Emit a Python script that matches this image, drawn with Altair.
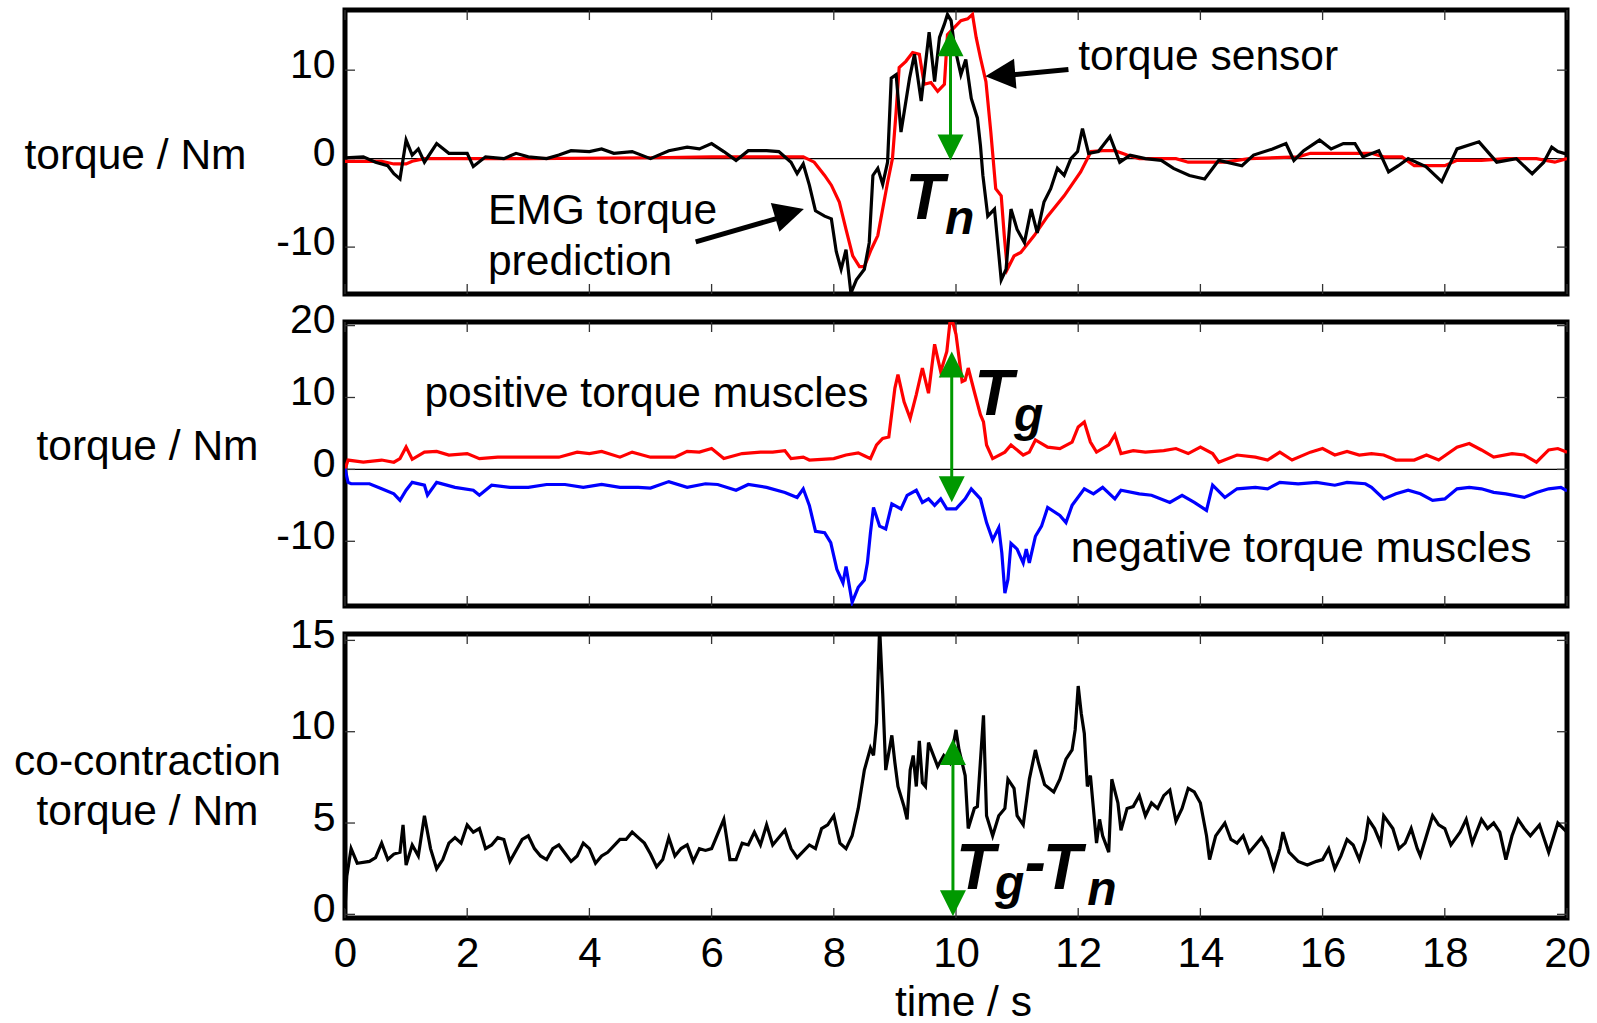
import altair as alt
import pandas as pd

W, H = 1222, 284
FONT = "Liberation Sans"
GREEN = "#009900"
HEAD = "M0,0L1,2L-1,2Z"

# ---------------- data ----------------
x_ticks = [0, 2, 4, 6, 8, 10, 12, 14, 16, 18, 20]
top_ticks = [-10, 0, 10]
mid_ticks = [-10, 0, 10, 20]
bot_ticks = [0, 5, 10, 15]

top_domain = [-15.3, 16.8]
mid_domain = [-19.0, 20.5]
bot_domain = [-0.2, 15.35]

# top panel: EMG torque prediction (black)
emg_t = [0, 0.3, 0.5, 0.7, 0.8, 0.9, 1.0, 1.1, 1.2, 1.3, 1.5, 1.7, 2.0, 2.1, 2.3, 2.6, 2.8, 3.0, 3.3, 3.5,
         3.7, 4.0, 4.2, 4.4, 4.7, 5.0, 5.3, 5.6, 5.8, 6.0, 6.2, 6.4, 6.6, 6.9, 7.1, 7.3, 7.4, 7.5, 7.6, 7.7,
         7.85, 7.96, 8.04, 8.12, 8.2, 8.28, 8.37, 8.5, 8.58, 8.64, 8.72, 8.8, 8.88, 8.94, 9.02, 9.1, 9.24, 9.32,
         9.43, 9.56, 9.65, 9.73, 9.81, 9.86, 9.92, 9.97, 10.08, 10.16, 10.25, 10.35, 10.4, 10.44, 10.52, 10.63,
         10.74, 10.82, 10.9, 11.0, 11.12, 11.23, 11.33, 11.44, 11.55, 11.66, 11.77, 11.88, 11.99, 12.07, 12.17,
         12.33, 12.52, 12.68, 12.85, 13.1, 13.36, 13.56, 13.82, 14.07, 14.3, 14.68, 14.87, 15.18, 15.4, 15.53,
         15.69, 15.95, 16.14, 16.34, 16.53, 16.66, 16.92, 17.08, 17.24, 17.4, 17.69, 17.95, 18.2, 18.56, 18.85,
         19.17, 19.43, 19.62, 19.75, 19.85, 20]
emg_v = [0.1, 0.2, -0.4, -0.8, -1.7, -2.3, 2.1, 0.4, 1.1, -0.4, 1.7, 0.6, 0.6, -0.9, 0.2, 0.0, 0.6, 0.2, 0.0, 0.4,
         0.9, 0.8, 1.1, 0.6, 0.8, 0.0, 0.9, 1.3, 1.1, 1.7, 0.8, -0.2, 0.9, 0.9, 0.8, -0.4, -1.7, -0.6, -3.0, -5.9,
         -6.5, -6.8, -10.5, -12.5, -10.3, -15.2, -13.7, -12.5, -9.5, -1.9, -1.1, -2.9, -0.4, 9.1, 9.5, 3.0, 9.1, 11.8,
         6.5, 14.3, 8.7, 13.7, 15.2, 16.3, 15.6, 12.9, 9.5, 11.2, 6.8, 4.6, 1.5, -1.9, -6.5, -5.7,
         -13.7, -12.5, -5.7, -8.0, -9.5, -5.7, -8.4, -4.9, -3.4, -1.1, -1.9, 0.0, 0.8, 3.4, 0.6,
         0.8, 2.5, -0.4, 0.4, 0.0, -0.2, -1.1, -1.9, -2.3, -0.2, -0.8, 0.4, 1.1, 1.7, -0.2,
         0.9, 2.1, 1.1, 1.7, 1.7, 0.2, 0.9, -1.5, -0.8, 0.0, -0.9, -2.6, 1.1, 1.9, -0.4,
         0.0, -1.7, -0.4, 1.3, 0.8, 0.5]

# top panel: torque sensor (red)
sensor_t = [0, 0.6, 0.8, 1.0, 1.1, 1.3, 1.6, 3.0, 5.0, 6.0, 7.0, 7.5, 7.68, 7.85, 7.96, 8.09, 8.2, 8.31, 8.42,
            8.5, 8.61, 8.72, 8.8, 8.88, 8.96, 9.02, 9.07, 9.18, 9.29, 9.4, 9.48, 9.59, 9.7, 9.81, 9.86, 9.97,
            10.08, 10.19, 10.27, 10.33, 10.4, 10.49, 10.57, 10.65, 10.74, 10.79, 10.84, 10.95, 11.06, 11.28,
            11.5, 11.77, 12.04, 12.21, 12.4, 12.6, 12.8, 13.0, 13.6, 13.8, 14.4, 14.8, 15.6, 15.8, 16.8, 17.0,
            17.3, 17.5, 18.0, 18.2, 18.6, 19.0, 19.5, 19.8, 20]
sensor_v = [-0.3, -0.3, -0.6, -0.6, -0.3, 0.0, 0.0, 0.0, 0.1, 0.2, 0.2, 0.2, -0.4, -1.9, -3.0, -4.9, -8.0, -11.0,
            -12.2, -12.2, -10.3, -8.7, -5.7, -2.7, 0.0, 5.3, 10.3, 11.0, 12.0, 11.8, 8.4, 8.6, 7.6, 8.4, 14.0,
            14.8, 15.6, 15.8, 16.3, 13.7, 11.4, 8.7, 3.0, -3.4, -4.2, -8.7, -12.5, -11.0, -10.6, -8.7,
            -6.5, -4.2, -1.5, 0.8, 0.9, 0.9, 0.4, 0.0, 0.0, -0.4, -0.4, 0.0, 0.2, 0.6, 0.6, 0.2,
            0.2, -0.8, -0.8, -0.2, -0.2, 0.0, 0.0, -0.4, 0.0]

# middle panel: positive torque muscles (red)
pos_t = [0, 0.05, 0.3, 0.6, 0.8, 0.9, 1.0, 1.1, 1.3, 1.5, 1.7, 2.0, 2.2, 2.5, 3.0, 3.5, 3.8, 4.0, 4.2, 4.5,
         4.7, 5.0, 5.4, 5.6, 5.8, 6.0, 6.2, 6.5, 6.8, 7.0, 7.2, 7.3, 7.5, 7.6, 7.8, 8.0, 8.2, 8.4, 8.5, 8.6,
         8.7, 8.8, 8.9, 9.0, 9.05, 9.15, 9.25, 9.35, 9.45, 9.55, 9.65, 9.75, 9.85, 9.9, 9.95, 10.0, 10.1,
         10.15, 10.2, 10.3, 10.4, 10.45, 10.5, 10.6, 10.8, 10.9, 11.1, 11.2, 11.3, 11.5, 11.7, 11.9, 12.0,
         12.1, 12.2, 12.3, 12.5, 12.6, 12.7, 12.9, 13.1, 13.4, 13.6, 13.8, 14.0, 14.2, 14.3, 14.6, 14.9,
         15.1, 15.3, 15.5, 15.8, 16.0, 16.2, 16.4, 16.6, 16.8, 17.0, 17.2, 17.5, 17.7, 17.9, 18.2, 18.4,
         18.6, 18.8, 19.1, 19.3, 19.5, 19.7, 19.85, 20]
pos_v = [0.0, 1.3, 1.0, 1.3, 1.0, 1.5, 3.1, 1.4, 2.4, 2.5, 2.0, 2.2, 1.5, 1.7, 1.7, 1.7, 2.4, 2.2, 2.5, 1.7,
         2.4, 1.7, 1.7, 2.5, 2.4, 2.9, 1.5, 2.2, 2.4, 2.4, 2.6, 1.5, 1.7, 1.3, 1.4, 1.5, 2.0, 2.3, 1.9, 1.5,
         3.4, 4.3, 4.5, 11.3, 13.2, 9.4, 7.1, 10.4, 14.1, 10.6, 17.4, 13.6, 16.4, 20.4, 20.4, 18.8, 12.2,
         12.4, 14.1, 10.8, 7.6, 6.6, 3.4, 1.5, 2.4, 3.4, 2.0, 2.4, 4.1, 3.1, 2.9, 3.8, 5.9,
         6.6, 3.8, 2.4, 3.4, 4.8, 2.2, 2.6, 2.4, 2.6, 2.9, 2.2, 3.1, 2.2, 1.0, 2.0, 1.7,
         1.3, 2.4, 1.3, 2.4, 2.9, 2.0, 2.5, 2.0, 2.2, 2.0, 1.3, 1.3, 2.0, 1.3, 3.1, 3.6,
         2.7, 1.7, 2.2, 2.0, 1.0, 2.7, 2.9, 2.4]

# middle panel: negative torque muscles (blue)
neg_t = [0, 0.05, 0.1, 0.4, 0.6, 0.8, 0.9, 1.0, 1.1, 1.3, 1.35, 1.5, 1.8, 2.1, 2.2, 2.4, 2.7, 3.0, 3.3, 3.6,
         3.9, 4.2, 4.5, 4.8, 5.0, 5.3, 5.6, 5.9, 6.1, 6.4, 6.6, 6.9, 7.2, 7.4, 7.5, 7.6, 7.7, 7.85, 7.95, 8.05,
         8.15, 8.2, 8.3, 8.4, 8.5, 8.55, 8.6, 8.65, 8.75, 8.85, 8.95, 9.1, 9.2, 9.35, 9.45, 9.55, 9.65, 9.75,
         9.85, 10.0, 10.15, 10.25, 10.4, 10.5, 10.6, 10.7, 10.75, 10.8, 10.85, 10.9, 11.0, 11.1, 11.15, 11.2,
         11.3, 11.4, 11.5, 11.7, 11.8, 11.9, 12.1, 12.25, 12.4, 12.6, 12.7, 13.0, 13.2, 13.5, 13.7, 13.9,
         14.1, 14.2, 14.4, 14.6, 14.9, 15.1, 15.3, 15.6, 15.9, 16.2, 16.4, 16.7, 16.8, 17.0, 17.2, 17.4,
         17.6, 17.8, 18.0, 18.2, 18.4, 18.6, 18.8, 19.0, 19.3, 19.5, 19.7, 19.9, 20]
neg_v = [0.1, -1.8, -2.0, -2.0, -2.7, -3.4, -4.3, -2.9, -1.8, -2.2, -3.6, -1.8, -2.5, -2.9, -3.6, -2.2, -2.5,
         -2.5, -2.1, -2.1, -2.5, -2.1, -2.5, -2.5, -2.6, -1.7, -2.5, -2.0, -2.1, -2.9, -2.1, -2.5, -3.2, -3.9,
         -2.7, -5.0, -8.6, -8.8, -10.2, -13.9, -15.8, -13.5, -18.5, -16.4, -15.4, -13.0, -8.8, -5.3, -7.9,
         -8.3, -4.8, -5.5, -3.6, -2.9, -4.6, -4.1, -5.0, -4.1, -5.5, -5.5, -4.1, -2.7, -4.1, -7.4, -9.8,
         -8.1, -11.6, -17.2, -15.3, -10.3, -11.1, -13.0, -11.1, -13.0, -9.3, -7.9, -5.3, -6.4, -7.4, -5.0,
         -2.7, -3.4, -2.5, -4.1, -2.9, -3.4, -3.6, -4.6, -3.6, -4.6, -5.7, -2.2, -3.9, -2.7, -2.5, -2.7,
         -1.8, -2.0, -1.8, -2.2, -1.8, -2.0, -2.5, -4.1, -3.4, -2.9, -3.4, -4.3, -4.1, -2.7, -2.5, -2.7,
         -3.2, -3.4, -3.9, -3.2, -2.7, -2.5, -3.0]

# bottom panel: co-contraction torque (black)
co_t = [0, 0.03, 0.1, 0.2, 0.4, 0.5, 0.6, 0.7, 0.8, 0.9, 0.95, 1.0, 1.1, 1.2, 1.3, 1.4, 1.5, 1.6, 1.7, 1.8,
        1.9, 2.0, 2.1, 2.2, 2.3, 2.4, 2.5, 2.6, 2.7, 2.9, 3.0, 3.1, 3.2, 3.3, 3.4, 3.5, 3.7, 3.8, 3.9, 4.0,
        4.1, 4.2, 4.3, 4.5, 4.6, 4.7, 4.8, 4.9, 5.0, 5.1, 5.2, 5.3, 5.4, 5.5, 5.6, 5.7, 5.8, 5.9, 6.0, 6.2,
        6.3, 6.4, 6.5, 6.6, 6.7, 6.8, 6.9, 7.0, 7.2, 7.3, 7.4, 7.6, 7.7, 7.8, 7.9, 8.0, 8.1, 8.2, 8.3, 8.4,
        8.5, 8.6, 8.65, 8.7, 8.75, 8.8, 8.85, 8.95, 9.0, 9.05, 9.15, 9.2, 9.25, 9.3, 9.35, 9.4, 9.45, 9.5,
        9.55, 9.7, 9.8, 9.9, 10.0, 10.05, 10.15, 10.2, 10.3, 10.35, 10.45, 10.5, 10.6, 10.7, 10.8, 10.85,
        10.95, 11.0, 11.1, 11.2, 11.3, 11.35, 11.45, 11.6, 11.7, 11.8, 11.9, 11.95, 12.0, 12.05, 12.1,
        12.15, 12.2, 12.3, 12.35, 12.4, 12.5, 12.55, 12.65, 12.7, 12.8, 12.9, 13.0, 13.1, 13.2, 13.3, 13.4,
        13.5, 13.6, 13.7, 13.8, 13.9, 14.0, 14.1, 14.15, 14.25, 14.4, 14.5, 14.6, 14.7, 14.8, 14.9, 15.0,
        15.1, 15.2, 15.3, 15.35, 15.45, 15.6, 15.75, 15.9, 16.0, 16.1, 16.2, 16.3, 16.4, 16.5, 16.6, 16.7,
        16.75, 16.85, 16.95, 17.0, 17.15, 17.25, 17.35, 17.45, 17.55, 17.6, 17.7, 17.8, 17.9, 18.0, 18.1,
        18.25, 18.35, 18.45, 18.6, 18.7, 18.8, 18.9, 19.0, 19.1, 19.2, 19.3, 19.4, 19.55, 19.7, 19.85, 20]
co_v = [0.3, 2.1, 3.6, 2.8, 2.9, 3.1, 3.9, 3.0, 3.3, 3.4, 4.9, 2.7, 3.8, 3.2, 5.4, 3.6, 2.5, 3.0, 3.9, 4.2,
        3.9, 4.9, 4.5, 4.7, 3.6, 3.8, 4.2, 4.1, 2.9, 4.1, 4.3, 3.6, 3.2, 3.0, 3.6, 3.8, 2.9, 3.2, 3.9, 3.6,
        2.8, 3.2, 3.4, 4.1, 4.1, 4.5, 4.2, 3.9, 3.3, 2.6, 3.0, 4.2, 3.2, 3.6, 3.8, 2.9, 3.6, 3.5, 3.6, 5.2,
        3.0, 3.0, 3.9, 3.8, 4.5, 3.8, 4.9, 3.8, 4.6, 3.6, 3.1, 3.8, 3.6, 4.7, 4.9, 5.4, 3.9, 3.6, 4.3, 5.8,
        7.9, 9.1, 8.7, 10.5, 15.7, 12.1, 7.9, 9.8, 8.3, 7.0, 5.9, 5.2, 7.9, 8.7, 7.0, 9.5, 7.2, 7.0,
        9.4, 8.1, 8.7, 8.3, 10.1, 9.0, 7.6, 4.7, 5.8, 5.9, 10.9, 5.4, 4.3, 5.4, 5.8, 7.4,
        6.9, 5.4, 4.9, 7.4, 9.0, 8.3, 7.1, 6.7, 7.4, 8.5, 9.0, 10.1, 12.5, 11.0, 9.9,
        7.0, 7.6, 3.9, 5.2, 4.3, 3.4, 7.4, 6.1, 4.6, 5.8, 5.9, 6.5, 5.4, 6.1, 5.8, 6.5,
        6.8, 5.1, 5.8, 6.9, 6.7, 6.1, 4.3, 3.0, 4.3, 5.0, 4.1, 3.9, 4.3, 3.4, 3.8, 4.2,
        3.6, 2.5, 3.6, 4.5, 3.4, 2.9, 2.7, 2.9, 3.0, 3.6, 2.5, 3.2, 4.1, 3.8, 3.0, 4.1,
        5.2, 4.7, 3.9, 5.4, 4.7, 3.6, 3.9, 4.7, 3.6, 3.2, 4.3, 5.4, 4.9, 4.7, 3.8,
        4.5, 5.2, 3.9, 5.2, 4.7, 5.0, 4.5, 3.0, 4.3, 5.2, 4.7, 4.3, 4.9, 3.4, 5.0, 4.5]

# annotations (positions in data units)
top_labels = [(2.34, -7.4, "EMG torque"), (2.34, -13.2, "prediction"), (12.0, 10.0, "torque sensor")]
mid_labels = [(1.3, 8.7, "positive torque muscles"), (11.88, -12.9, "negative torque muscles")]
top_big = [(9.17, -6.85, "T")]
top_sub = [(9.82, -8.56, "n")]
mid_big = [(10.3, 7.5, "T")]
mid_sub = [(10.95, 5.3, "g")]
bot_big = [(10.0, 1.4, "T"), (11.12, 1.64, "-"), (11.42, 1.4, "T")]
bot_sub = [(10.64, 0.86, "g"), (12.15, 0.49, "n")]

# black arrows: tail, shaft end, tip, head angle
emg_arrow = dict(t=5.74, v=-9.4, t2=7.2, v2=-6.5, tip_t=7.51, tip_v=-5.68, angle=73.4)
sensor_arrow = dict(t=11.84, v=10.08, t2=10.9, v2=9.45, tip_t=10.48, tip_v=9.32, angle=265.4)
# green double arrows: x, lower tip, upper tip, shaft lower, shaft upper
top_green = dict(t=9.91, lo=-0.2, hi=14.5, slo=0.4, shi=13.9)
mid_green = dict(t=9.93, lo=-4.56, hi=16.4, slo=-3.9, shi=15.7)
bot_green = dict(t=9.95, lo=-0.1, hi=9.6, slo=0.2, shi=9.3)

LABEL_EXPR = "replace(datum.label, '\u2212', '-')"


# ---------------- helpers ----------------
def xenc(axis):
    return alt.X("t:Q", scale=alt.Scale(domain=[0, 20], nice=False, zero=False), axis=axis)


def yenc(domain, axis):
    return alt.Y("v:Q", scale=alt.Scale(domain=domain, nice=False, zero=False), axis=axis)


def y_axis(ticks, title, tx, ty, lh=None):
    kw = dict(values=ticks, title=title, titleAngle=0, titleX=tx, titleY=ty, titleAlign="center",
              titleBaseline="alphabetic", titleFontWeight="normal", titleFontSize=42.5, titleFont=FONT,
              titleColor="black", labelFont=FONT, labelFontSize=41, labelColor="black", labelPadding=10,
              labelOffset=-5, labelFlush=False, labelOverlap=False, ticks=False, domain=False, grid=False,
              labelExpr=LABEL_EXPR)
    if lh is not None:
        kw["titleLineHeight"] = lh
    return alt.Axis(**kw)


bottom_x_axis = alt.Axis(values=x_ticks, title="time / s", titleX=618, titleY=97, titleAlign="center",
                         titleBaseline="alphabetic", titleFontWeight="normal", titleFontSize=42.5, titleFont=FONT,
                         titleColor="black", labelFont=FONT, labelFontSize=42, labelColor="black",
                         labelPadding=15, labelFlush=False, labelOverlap=False, ticks=False, domain=False,
                         grid=False)


def line(t, v, color, xd, yd, width=3.2):
    df = pd.DataFrame({"t": t, "v": v})
    return alt.Chart(df).mark_line(color=color, strokeWidth=width, clip=True, strokeJoin="miter").encode(
        x=xd, y=yd, order="idx:Q").transform_window(idx="row_number()")


def tick_layers(yticks, xd, yd):
    xt = pd.DataFrame({"t": x_ticks})
    yt = pd.DataFrame({"v": yticks})
    st = dict(color="#333333", strokeWidth=1.3)
    return [
        alt.Chart(xt).mark_rule(**st).encode(x=xd, y=alt.value(0), y2=alt.value(10)),
        alt.Chart(xt).mark_rule(**st).encode(x=xd, y=alt.value(H - 10), y2=alt.value(H)),
        alt.Chart(yt).mark_rule(**st).encode(y=yd, x=alt.value(0), x2=alt.value(10)),
        alt.Chart(yt).mark_rule(**st).encode(y=yd, x=alt.value(W - 10), x2=alt.value(W)),
    ]


def zero_line(yd):
    return alt.Chart(pd.DataFrame({"v": [0]})).mark_rule(color="black", strokeWidth=1.4).encode(y=yd)


def texts(rows, xd, yd, size=42.5, bold_italic=False):
    df = pd.DataFrame(rows, columns=["t", "v", "label"])
    kw = dict(align="left", baseline="alphabetic", font=FONT, fontSize=size, color="black")
    if bold_italic:
        kw.update(fontStyle="italic", fontWeight="bold")
    return alt.Chart(df).mark_text(**kw).encode(x=xd, y=yd, text="label:N")


def green_arrow(g, xd, yd):
    shaft = pd.DataFrame({"t": [g["t"]], "v": [g["slo"]], "t2": [g["t"]], "v2": [g["shi"]]})
    up = pd.DataFrame({"t": [g["t"]], "v": [g["hi"]]})
    dn = pd.DataFrame({"t": [g["t"]], "v": [g["lo"]]})
    return [
        alt.Chart(shaft).mark_rule(color=GREEN, strokeWidth=3).encode(
            x=xd, y=yd, x2=alt.X2("t2:Q"), y2=alt.Y2("v2:Q")),
        alt.Chart(up).mark_point(shape=HEAD, filled=True, size=676, color=GREEN, opacity=1,
                                 strokeWidth=0, angle=0).encode(x=xd, y=yd),
        alt.Chart(dn).mark_point(shape=HEAD, filled=True, size=676, color=GREEN, opacity=1,
                                 strokeWidth=0, angle=180).encode(x=xd, y=yd),
    ]


def black_arrow(a, xd, yd):
    shaft = pd.DataFrame({"t": [a["t"]], "v": [a["v"]], "t2": [a["t2"]], "v2": [a["v2"]]})
    tip = pd.DataFrame({"t": [a["tip_t"]], "v": [a["tip_v"]]})
    return [
        alt.Chart(shaft).mark_rule(color="black", strokeWidth=5).encode(
            x=xd, y=yd, x2=alt.X2("t2:Q"), y2=alt.Y2("v2:Q")),
        alt.Chart(tip).mark_point(shape=HEAD, filled=True, size=900, color="black", opacity=1,
                                  strokeWidth=0, angle=a["angle"]).encode(x=xd, y=yd),
    ]


# ---------------- top panel ----------------
xa = xenc(None)
yt = yenc(top_domain, y_axis(top_ticks, "torque / Nm", -210, 158))
top = alt.layer(
    zero_line(yt),
    *tick_layers(top_ticks, xa, yt),
    line(sensor_t, sensor_v, "#ff0000", xa, yt),
    line(emg_t, emg_v, "black", xa, yt),
    *black_arrow(emg_arrow, xa, yt),
    *black_arrow(sensor_arrow, xa, yt),
    *green_arrow(top_green, xa, yt),
    texts(top_labels, xa, yt),
    texts(top_big, xa, yt, size=64, bold_italic=True),
    texts(top_sub, xa, yt, size=48, bold_italic=True),
).properties(width=W, height=H)

# ---------------- middle panel ----------------
ym = yenc(mid_domain, y_axis(mid_ticks, "torque / Nm", -198, 137))
mid = alt.layer(
    zero_line(ym),
    *tick_layers(mid_ticks, xa, ym),
    line(pos_t, pos_v, "#ff0000", xa, ym),
    line(neg_t, neg_v, "#0000ff", xa, ym),
    *green_arrow(mid_green, xa, ym),
    texts(mid_labels, xa, ym),
    texts(mid_big, xa, ym, size=64, bold_italic=True),
    texts(mid_sub, xa, ym, size=48, bold_italic=True),
).properties(width=W, height=H)

# ---------------- bottom panel ----------------
xb = xenc(bottom_x_axis)
yb = yenc(bot_domain, y_axis(bot_ticks, ["co-contraction", "torque / Nm"], -198, 140, lh=50))
bot = alt.layer(
    *tick_layers(bot_ticks, xb, yb),
    line(co_t, co_v, "black", xb, yb),
    *green_arrow(bot_green, xb, yb),
    texts(bot_big, xb, yb, size=64, bold_italic=True),
    texts(bot_sub, xb, yb, size=48, bold_italic=True),
).properties(width=W, height=H)

chart = alt.vconcat(top, mid, bot, spacing=28, bounds="flush").properties(
    padding={"left": 11, "top": 6, "right": 4, "bottom": 0},
    background="white",
).configure_view(stroke="black", strokeWidth=5)

chart.save("out.html", embed_options={"renderer": "svg", "actions": False})
